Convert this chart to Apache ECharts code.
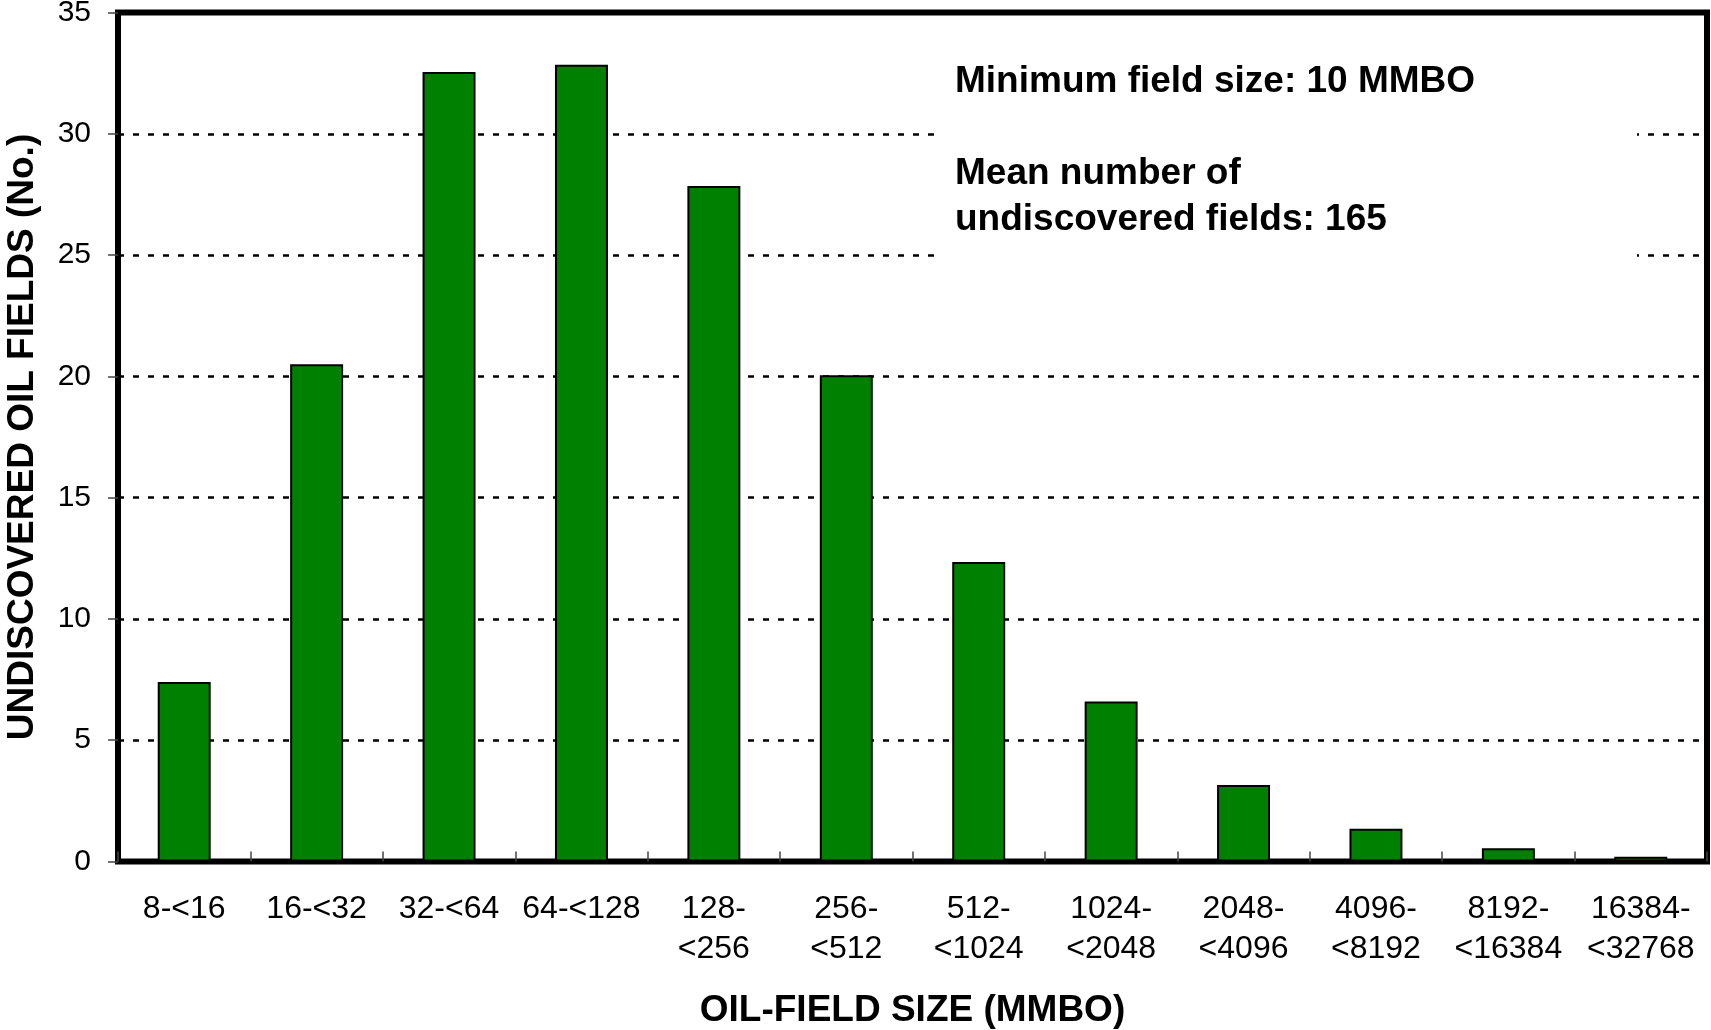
<!DOCTYPE html>
<html>
<head>
<meta charset="utf-8">
<script src="https://cdn.jsdelivr.net/npm/echarts@6/dist/echarts.min.js"></script>
<style>
html,body{margin:0;padding:0;background:#fff;}
#chart{width:1711px;height:1030px;}
</style>
</head>
<body>
<div id="chart"></div>
<script>
const categories = ['8-<16','16-<32','32-<64','64-<128','128-\n<256','256-\n<512','512-\n<1024','1024-\n<2048','2048-\n<4096','4096-\n<8192','8192-\n<16384','16384-\n<32768'];
const fieldCounts = [7.4, 20.5, 32.55, 32.85, 27.85, 20.05, 12.35, 6.6, 3.15, 1.35, 0.55, 0.2];
const yTicks = {min: 0, max: 35, interval: 5};
const noteLines = ['Minimum field size: 10 MMBO', '', 'Mean number of', 'undiscovered fields: 165'];
const xTitle = 'OIL-FIELD SIZE (MMBO)';
const yTitle = 'UNDISCOVERED OIL FIELDS (No.)';

const FONT = '"Liberation Sans", Arial, Helvetica, sans-serif';
const chart = echarts.init(document.getElementById('chart'), null, {renderer: 'canvas'});
chart.setOption({
  animation: false,
  backgroundColor: '#ffffff',
  grid: {
    left: 118, right: 4, top: 12.5, bottom: 168.5,
    show: true, borderColor: '#000', borderWidth: 6, backgroundColor: 'transparent',
    containLabel: false, outerBoundsMode: 'none'
  },
  xAxis: {
    type: 'category',
    data: categories,
    name: xTitle,
    nameLocation: 'middle',
    nameGap: 131,
    nameTextStyle: {fontFamily: FONT, fontSize: 37, fontWeight: 'bold', color: '#000'},
    axisLine: {show: false},
    axisTick: {show: true, inside: true, length: 10, interval: 0, alignWithLabel: false, lineStyle: {color: '#444', width: 1.5}},
    axisLabel: {interval: 0, margin: 28, fontFamily: FONT, fontSize: 32, color: '#000', lineHeight: 40, verticalAlign: 'top', hideOverlap: false},
    splitLine: {show: false}
  },
  yAxis: {
    type: 'value',
    min: yTicks.min, max: yTicks.max, interval: yTicks.interval,
    name: yTitle,
    nameLocation: 'middle',
    nameGap: 77,
    nameTextStyle: {fontFamily: FONT, fontSize: 37, fontWeight: 'bold', color: '#000'},
    axisLine: {show: false},
    axisTick: {show: true, inside: false, length: 10, lineStyle: {color: '#444', width: 1.5}},
    axisLabel: {margin: 27, fontFamily: FONT, fontSize: 30, color: '#000'},
    splitLine: {show: true, lineStyle: {color: '#000', width: 2.5, type: [6, 9]}}
  },
  series: [{
    type: 'bar',
    data: fieldCounts,
    barWidth: '40%',
    itemStyle: {color: '#008000', borderColor: '#000', borderWidth: 2},
    z: 3
  }],
  graphic: [
    {type: 'rect', z: 50, shape: {x: 939, y: 17, width: 698, height: 285}, style: {fill: '#fff'}},
    {type: 'text', z: 51, x: 955, y: 59, style: {
      text: noteLines.join('\n'), fill: '#000', font: 'bold 37px ' + FONT,
      lineHeight: 46, verticalAlign: 'top', align: 'left'
    }}
  ]
});
</script>
</body>
</html>
